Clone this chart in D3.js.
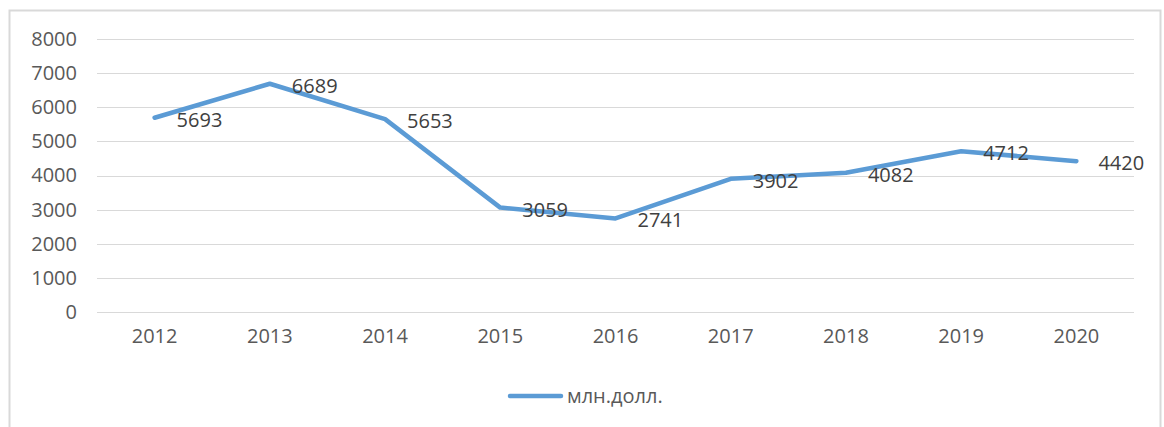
<!DOCTYPE html>
<html lang="ru">
<head>
    <meta charset="UTF-8">
    <title>млн.долл.</title>
    <script src="https://d3js.org/d3.v7.min.js"></script>
    <style>
        body {
            margin: 0;
            padding: 0;
            background: #fff;
            font-family: 'Open Sans', 'Liberation Sans', sans-serif;
        }
        svg { display: block; }
    </style>
</head>
<body>
    <svg width="1164" height="427"></svg>

    <script>
        const years = ["2012", "2013", "2014", "2015", "2016", "2017", "2018", "2019", "2020"];
        const values = [5693, 6689, 5653, 3059, 2741, 3902, 4082, 4712, 4420];
        const yTicks = [0, 1000, 2000, 3000, 4000, 5000, 6000, 7000, 8000];
        const seriesName = "млн.долл.";

        const svg = d3.select("svg");
        const color = "#5b9bd5";
        const fontSize = "20px";

        // chart frame
        svg.append("rect")
            .attr("x", 9.5).attr("y", 10.5)
            .attr("width", 1151).attr("height", 430)
            .attr("fill", "#fff")
            .attr("stroke", "#d9d9d9")
            .attr("stroke-width", 2);

        const x = d3.scaleBand().domain(years).range([97, 1134]);
        const y = d3.scaleLinear().domain([0, 8000]).range([312, 39]);

        // gridlines
        svg.append("g")
            .selectAll("line")
            .data(yTicks)
            .enter().append("line")
            .attr("x1", 97).attr("x2", 1134)
            .attr("y1", d => Math.round(y(d)) + 0.5)
            .attr("y2", d => Math.round(y(d)) + 0.5)
            .attr("stroke", "#d9d9d9")
            .attr("stroke-width", 1);

        // y axis labels
        const yAxis = svg.append("g")
            .attr("transform", "translate(82,0)")
            .call(d3.axisLeft(y).tickValues(yTicks).tickFormat(d3.format("d")).tickSize(0).tickPadding(5));
        yAxis.select(".domain").remove();
        yAxis.selectAll("text")
            .attr("fill", "#595959")
            .style("font-size", fontSize)
            .style("font-family", "'Open Sans', sans-serif");

        // x axis labels
        const xAxis = svg.append("g")
            .attr("transform", "translate(0,329)")
            .call(d3.axisBottom(x).tickSize(0).tickPadding(0));
        xAxis.select(".domain").remove();
        xAxis.selectAll("text")
            .attr("fill", "#595959")
            .attr("dy", "0.71em")
            .style("font-size", fontSize)
            .style("font-family", "'Open Sans', sans-serif");

        const cx = d => x(d) + x.bandwidth() / 2;

        const line = d3.line()
            .x((d, i) => cx(years[i]))
            .y(d => y(d));

        svg.append("path")
            .datum(values)
            .attr("d", line)
            .attr("fill", "none")
            .attr("stroke", color)
            .attr("stroke-width", 4.5)
            .attr("stroke-linecap", "round")
            .attr("stroke-linejoin", "round");

        // data labels
        svg.append("g")
            .selectAll("text")
            .data(values)
            .enter().append("text")
            .attr("x", (d, i) => cx(years[i]) + 22)
            .attr("y", d => y(d) + 2)
            .attr("dy", "0.35em")
            .attr("fill", "#404040")
            .style("font-size", fontSize)
            .text(d => d);

        // legend
        const legend = svg.append("g");
        legend.append("line")
            .attr("x1", 510).attr("x2", 561)
            .attr("y1", 396).attr("y2", 396)
            .attr("stroke", color)
            .attr("stroke-width", 4.5)
            .attr("stroke-linecap", "round");
        legend.append("text")
            .attr("x", 567).attr("y", 396)
            .attr("dy", "0.35em")
            .attr("fill", "#595959")
            .style("font-size", fontSize)
            .text(seriesName);
    </script>
</body>
</html>
